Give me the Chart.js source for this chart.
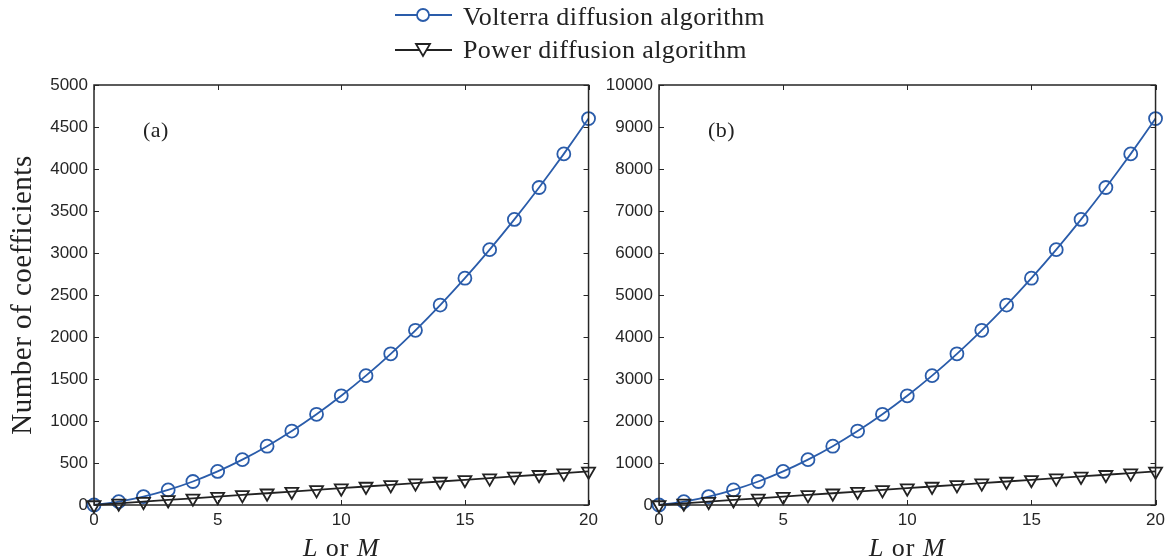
<!DOCTYPE html>
<html>
<head>
<meta charset="utf-8">
<script src="https://cdn.jsdelivr.net/npm/chart.js@4.4.1/dist/chart.umd.min.js"></script>
<style>
  html, body { margin: 0; padding: 0; background: #fff; }
  #wrap { position: relative; width: 1168px; height: 560px; overflow: hidden; }
  canvas { position: absolute; top: 0; }
  #chartA { left: 0; }
  #chartB { left: 600px; }
  .leg { position: absolute; left: 395px; font-family: 'Liberation Serif', 'Times New Roman', serif; font-size: 26px; letter-spacing: 0.4px; color: #222; white-space: nowrap; }
  .leg svg { position: absolute; left: 0; top: 0; }
  .leg span { position: absolute; left: 68px; }
</style>
</head>
<body>
<div id="wrap">
  <canvas id="chartA" width="603" height="560"></canvas>
  <canvas id="chartB" width="570" height="560"></canvas>
  <div class="leg" style="top:0px">
    <svg width="60" height="30"><line x1="0" y1="15" x2="57" y2="15" stroke="#2a5caa" stroke-width="1.8"/><circle cx="28" cy="15" r="6" fill="#fff" stroke="#2a5caa" stroke-width="1.8"/></svg>
    <span style="top:2px">Volterra diffusion algorithm</span>
  </div>
  <div class="leg" style="top:35px">
    <svg width="60" height="30"><line x1="0" y1="15" x2="57" y2="15" stroke="#222" stroke-width="1.8"/><polygon points="21,9 35,9 28,21" fill="#fff" stroke="#222" stroke-width="1.8"/></svg>
    <span style="top:0px">Power diffusion algorithm</span>
  </div>
</div>
<script>
// L or M values on the x axis
const orderValues = [0, 1, 2, 3, 4, 5, 6, 7, 8, 9, 10, 11, 12, 13, 14, 15, 16, 17, 18, 19, 20];

// panel (a)
const volterraA = [0, 40, 100, 180, 280, 400, 540, 700, 880, 1080, 1300, 1540, 1800, 2080, 2380, 2700, 3040, 3400, 3780, 4180, 4600];
const powerA = [0, 20, 40, 60, 80, 100, 120, 140, 160, 180, 200, 220, 240, 260, 280, 300, 320, 340, 360, 380, 400];

// panel (b)
const volterraB = [0, 80, 200, 360, 560, 800, 1080, 1400, 1760, 2160, 2600, 3080, 3600, 4160, 4760, 5400, 6080, 6800, 7560, 8360, 9200];
const powerB = [0, 40, 80, 120, 160, 200, 240, 280, 320, 360, 400, 440, 480, 520, 560, 600, 640, 680, 720, 760, 800];

const blue = '#2a5caa';
const black = '#222222';
const axisColor = '#262626';

function toPoints(vals) {
    return orderValues.map((x, i) => ({ x: x, y: vals[i] }));
}

// box, inner ticks, axis titles and panel tag (MATLAB look)
const matlabFrame = {
    id: 'matlabFrame',
    afterDraw(chart, args, opts) {
        const c = chart.ctx;
        const a = chart.chartArea;
        const xs = chart.scales.x;
        const ys = chart.scales.y;
        c.save();
        c.strokeStyle = axisColor;
        c.lineWidth = 1.5;
        c.strokeRect(a.left, a.top, a.right - a.left, a.bottom - a.top);
        c.lineWidth = 1;
        const tl = 5;
        c.beginPath();
        ys.ticks.forEach(t => {
            const y = Math.round(ys.getPixelForValue(t.value)) + 0.5;
            c.moveTo(a.left, y); c.lineTo(a.left + tl, y);
            c.moveTo(a.right, y); c.lineTo(a.right - tl, y);
        });
        xs.ticks.forEach(t => {
            const x = Math.round(xs.getPixelForValue(t.value)) + 0.5;
            c.moveTo(x, a.bottom); c.lineTo(x, a.bottom - tl);
            c.moveTo(x, a.top); c.lineTo(x, a.top + tl);
        });
        c.stroke();

        c.fillStyle = '#222';
        c.textBaseline = 'alphabetic';
        // x title "L or M"
        c.letterSpacing = '1px';
        const mid = (a.left + a.right) / 2;
        const parts = [
            { t: 'L', f: 'italic 26px "Liberation Serif"' },
            { t: ' or ', f: '26px "Liberation Serif"' },
            { t: 'M', f: 'italic 26px "Liberation Serif"' }
        ];
        let w = 0;
        parts.forEach(p => { c.font = p.f; w += c.measureText(p.t).width; });
        let x0 = mid - w / 2;
        parts.forEach(p => { c.font = p.f; c.fillText(p.t, x0, 556); x0 += c.measureText(p.t).width; });

        // panel tag
        c.letterSpacing = '0.5px';
        c.font = '22px "Liberation Serif"';
        c.textAlign = 'left';
        c.fillText(opts.tag, a.left + 49, 137);

        if (opts.yTitle) {
            c.letterSpacing = '0.5px';
            c.translate(31, (a.top + a.bottom) / 2);
            c.rotate(-Math.PI / 2);
            c.font = '29px "Liberation Serif"';
            c.textAlign = 'center';
            c.fillText(opts.yTitle, 0, 0);
        }
        c.restore();
    }
};

function makeChart(id, volterra, power, yMax, yStep, yWidth, rightPad, tag, yTitle) {
    const ctx = document.getElementById(id).getContext('2d');
    return new Chart(ctx, {
        type: 'line',
        data: {
            datasets: [
                {
                    label: 'Volterra diffusion algorithm',
                    data: toPoints(volterra),
                    borderColor: blue,
                    borderWidth: 1.8,
                    pointStyle: 'circle',
                    pointRadius: 6.5,
                    pointBorderWidth: 1.8,
                    pointBackgroundColor: 'rgba(255,255,255,0)',
                    pointBorderColor: blue,
                    tension: 0.2,
                    clip: false,
                    order: 2
                },
                {
                    label: 'Power diffusion algorithm',
                    data: toPoints(power),
                    borderColor: black,
                    borderWidth: 1.8,
                    pointStyle: 'triangle',
                    pointRotation: 180,
                    pointRadius: 7.5,
                    pointBorderWidth: 1.8,
                    pointBackgroundColor: 'rgba(255,255,255,0)',
                    pointBorderColor: black,
                    clip: false,
                    order: 1
                }
            ]
        },
        options: {
            responsive: false,
            animation: false,
            devicePixelRatio: 1,
            layout: { padding: { top: 85, right: rightPad, left: 0, bottom: 0 } },
            plugins: {
                legend: { display: false },
                tooltip: { enabled: false },
                matlabFrame: { tag: tag, yTitle: yTitle }
            },
            scales: {
                x: {
                    type: 'linear',
                    min: 0,
                    max: 20,
                    ticks: { stepSize: 5, padding: 5, color: axisColor, font: { family: 'Liberation Sans', size: 17 },
                        callback: v => String(v) },
                    grid: { display: false, drawTicks: false },
                    border: { display: false },
                    afterFit: s => { s.height = 55; }
                },
                y: {
                    min: 0,
                    max: yMax,
                    ticks: { stepSize: yStep, padding: 6, color: axisColor, font: { family: 'Liberation Sans', size: 17 },
                        callback: v => String(v) },
                    grid: { display: false, drawTicks: false },
                    border: { display: false },
                    afterFit: s => { s.width = yWidth; }
                }
            }
        },
        plugins: [matlabFrame]
    });
}

var chartA = makeChart('chartA', volterraA, powerA, 5000, 500, 94, 8, '(a)', 'Number of coefficients');
var chartB = makeChart('chartB', volterraB, powerB, 10000, 1000, 59, 11, '(b)', null);
</script>
</body>
</html>
